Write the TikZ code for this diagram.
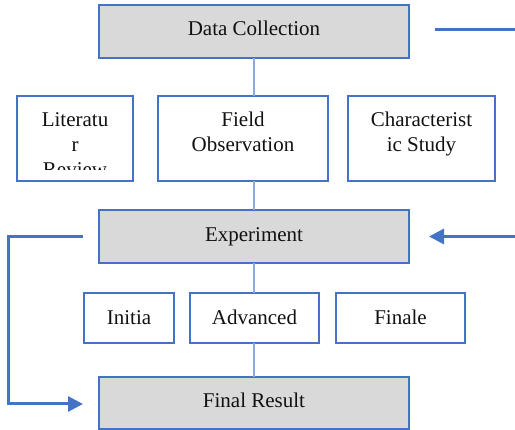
\documentclass[tikz,border=0pt]{standalone}
\usepackage{fontspec}
\setmainfont{Liberation Serif}
\usetikzlibrary{arrows.meta}
\definecolor{bl}{HTML}{4472C4}
\definecolor{lbl}{HTML}{8EAADB}
\definecolor{gr}{HTML}{D9D9D9}
\definecolor{tx}{HTML}{111111}
\begin{document}
\begin{tikzpicture}[x=1pt,y=-1pt,
  box/.style={draw=bl,line width=2.2pt,inner sep=0pt,outer sep=0pt},
  grbox/.style={box,fill=gr},
  txt/.style={anchor=base,inner sep=0pt,text=tx,font=\fontsize{21}{25}\selectfont},
  thin/.style={draw=lbl,line width=1.4pt},
  thick/.style={draw=bl,line width=3pt},
  arr/.style={thick,-{Triangle[length=15pt,width=15pt]}}]
\useasboundingbox (0,0) rectangle (515,430);
% boxes
\node[grbox,minimum width=310,minimum height=53] (dc) at (254,31.5) {};
\node[box,minimum width=116,minimum height=85] (lit) at (75,138.5) {};
\node[box,minimum width=170,minimum height=85] (fo) at (243,138.5) {};
\node[box,minimum width=147,minimum height=85] (cs) at (421.5,138.5) {};
\node[grbox,minimum width=310,minimum height=53] (exp) at (254,236.5) {};
\node[box,minimum width=90,minimum height=50] (ini) at (129,318) {};
\node[box,minimum width=129,minimum height=50] (adv) at (254.5,318) {};
\node[box,minimum width=129,minimum height=50] (fin) at (400.5,318) {};
\node[grbox,minimum width=310,minimum height=52] (fr) at (254,403) {};
% texts
\node[txt] (dct) at (254,36) {Data Collection};
\begin{scope}
  \clip (18,97) rectangle (132,170);
  \node[txt] (lit1) at (75,127) {Literatu};
  \node[txt] (lit2) at (75,152) {r};
  \node[txt] (lit3) at (75,177) {Review};
\end{scope}
\node[txt] (fo1) at (243,127) {Field};
\node[txt] (fo2) at (243,152) {Observation};
\node[txt] (cs1) at (421.5,127) {Characterist};
\node[txt] (cs2) at (421.5,152) {ic Study};
\node[txt] (expt) at (254,241.5) {Experiment};
\node[txt] (init) at (129,325) {Initia};
\node[txt] (advt) at (254.5,325) {Advanced};
\node[txt] (fint) at (400.5,325) {Finale};
\node[txt] (frt) at (254,408) {Final Result};
% thin connectors
\draw[thin] (dc.south) -- (dc.south |- fo.north);
\draw[thin] (dc.south |- fo.south) -- (exp.north);
\draw[thin] (exp.south) -- (exp.south |- adv.north);
\draw[thin] (exp.south |- adv.south) -- (fr.north);
% thick lines and arrows
\coordinate (tr1) at (435,30);
\coordinate (tr2) at (516,30);
\draw[thick] (tr1) -- (tr2);
\coordinate (ra) at (516,236.5);
\draw[arr] (ra) -- ([xshift=20pt]exp.east);
\draw[arr] ([xshift=-16pt]exp.west) -- (8,236.5) |- ([xshift=-16pt,yshift=-1pt]fr.west);
\end{tikzpicture}
\end{document}
